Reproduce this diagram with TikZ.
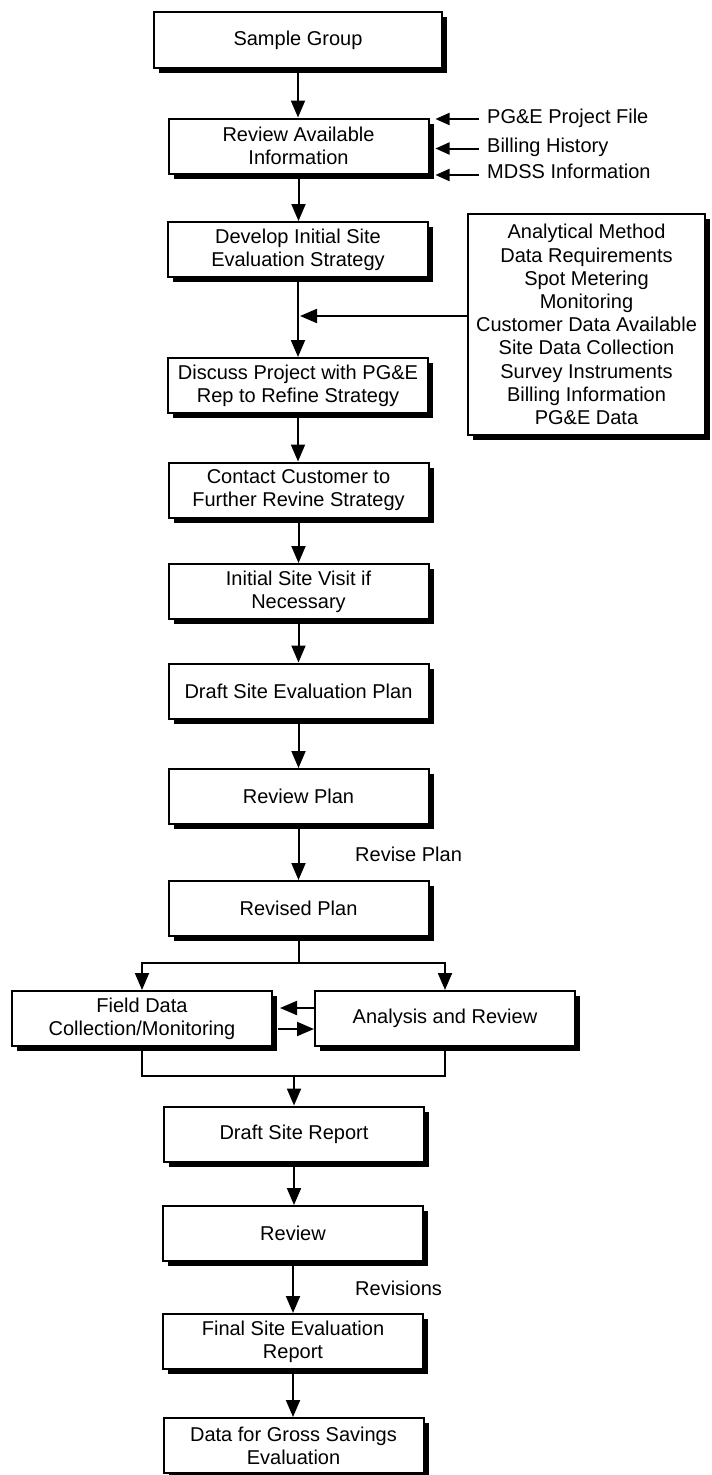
\documentclass[tikz,border=0pt]{standalone}
\usepackage{fontspec}
\setmainfont{Liberation Sans}
\usetikzlibrary{arrows.meta,shadows}
\begin{document}
\begin{tikzpicture}[x=1pt,y=-1pt,
  txt/.style={font=\fontsize{20}{23.2}\selectfont},
  box/.style={txt, draw, line width=2pt, fill=white, align=center,
    minimum width=260pt, minimum height=55pt, inner sep=0pt,
    drop shadow={shadow xshift=5pt, shadow yshift=-5pt, fill=black, opacity=1}},
  conn/.style={line width=2pt},
  arr/.style={conn, -{Triangle[length=17pt,width=14pt]}},
  sarr/.style={conn, -{Triangle[length=14pt,width=12pt]}},
  sidelbl/.style={txt, inner xsep=8pt, inner ysep=0pt, anchor=west, text height=14.5pt, text depth=4pt},
  freelbl/.style={txt, inner sep=0pt, anchor=west}]
\useasboundingbox (0,0) rectangle (712,1475);

% main column boxes
\node[box, minimum width=288pt, minimum height=56pt] (sample) at (298,40) {Sample Group};
\node[box] (review) at (298.5,146) {Review Available\\Information};
\node[box] (develop) at (298,249.5) {Develop Initial Site\\Evaluation Strategy};
\node[box] (discuss) at (298,385.5) {Discuss Project with PG\&E\\Rep to Refine Strategy};
\node[box] (contact) at (298.5,490) {Contact Customer to\\Further Revine Strategy};
\node[box] (initial) at (298.5,591.5) {Initial Site Visit if\\Necessary};
\node[box] (dplan) at (298.5,691) {Draft Site Evaluation Plan};
\node[box] (rplan) at (298.5,796.5) {Review Plan};
\node[box] (revised) at (298.5,908.5) {Revised Plan};
\node[box] (field) at (142,1018.5) {Field Data\\Collection/Monitoring};
\node[box] (analysis) at (445,1018.5) {Analysis and Review};
\node[box] (dreport) at (294,1134) {Draft Site Report};
\node[box] (rev) at (293,1233.5) {Review};
\node[box] (final) at (293,1341.5) {Final Site Evaluation\\Report};
\node[box] (gross) at (293.5,1445.5) {Data for Gross Savings\\Evaluation};

% right information box
\node[box, minimum width=237pt, minimum height=221pt] (info) at (586.5,324.5)
  {Analytical Method\\Data Requirements\\Spot Metering\\Monitoring\\Customer Data Available\\Site Data Collection\\Survey Instruments\\Billing Information\\PG\&E Data};

% side inputs
\node[sidelbl] (pge) at (479,118) {PG\&E Project File};
\node[sidelbl] (bill) at (479,147) {Billing History};
\node[sidelbl] (mdss) at (479,173.5) {MDSS Information};
\coordinate (rtip) at ([xshift=6pt]review.east);
\draw[sarr] ([yshift=-1pt]pge.west) -- ([yshift=-1pt]pge.west -| rtip);
\draw[sarr] ([yshift=-1.5pt]bill.west) -- ([yshift=-1.5pt]bill.west -| rtip);
\draw[sarr] ([yshift=-1.5pt]mdss.west) -- ([yshift=-1.5pt]mdss.west -| rtip);

% free labels
\node[freelbl] (lrevise) at (355,854) {Revise Plan};
\node[freelbl] (lrevisions) at (355,1288) {Revisions};

% main flow
\draw[arr] (sample.south) -- (sample.south |- review.north);
\draw[arr] (review.south) -- (review.south |- develop.north);
\draw[arr] (develop.south) -- (develop.south |- discuss.north);
\draw[arr, shorten >=2pt] ([yshift=8.5pt]info.west) -- ([yshift=8.5pt]info.west -| develop.south);
\draw[arr] (discuss.south) -- (discuss.south |- contact.north);
\draw[arr] (contact.south) -- (contact.south |- initial.north);
\draw[arr] (initial.south) -- (initial.south |- dplan.north);
\draw[arr] (dplan.south) -- (dplan.south |- rplan.north);
\draw[arr] (rplan.south) -- (rplan.south |- revised.north);

% branch
\coordinate (br) at (298.5,963);
\draw[conn] (revised.south) -- (br);
\draw[arr] (br) -| (field.north);
\draw[arr] (br) -| (analysis.north);

% exchange between field and analysis
\draw[arr] ([yshift=10.5pt]analysis.west) -- ([yshift=10.5pt,xshift=7pt]field.east);
\draw[arr] ([yshift=-10.5pt,xshift=5pt]field.east) -- ([yshift=-10.5pt]analysis.west);

% merge
\coordinate (mrg) at (294,1076);
\draw[conn] (field.south) |- (mrg) -| (analysis.south);
\draw[arr] (mrg) -- (mrg |- dreport.north);

\draw[arr] (dreport.south) -- (dreport.south |- rev.north);
\draw[arr] (rev.south) -- (rev.south |- final.north);
\draw[arr] (final.south) -- (final.south |- gross.north);
\end{tikzpicture}
\end{document}
